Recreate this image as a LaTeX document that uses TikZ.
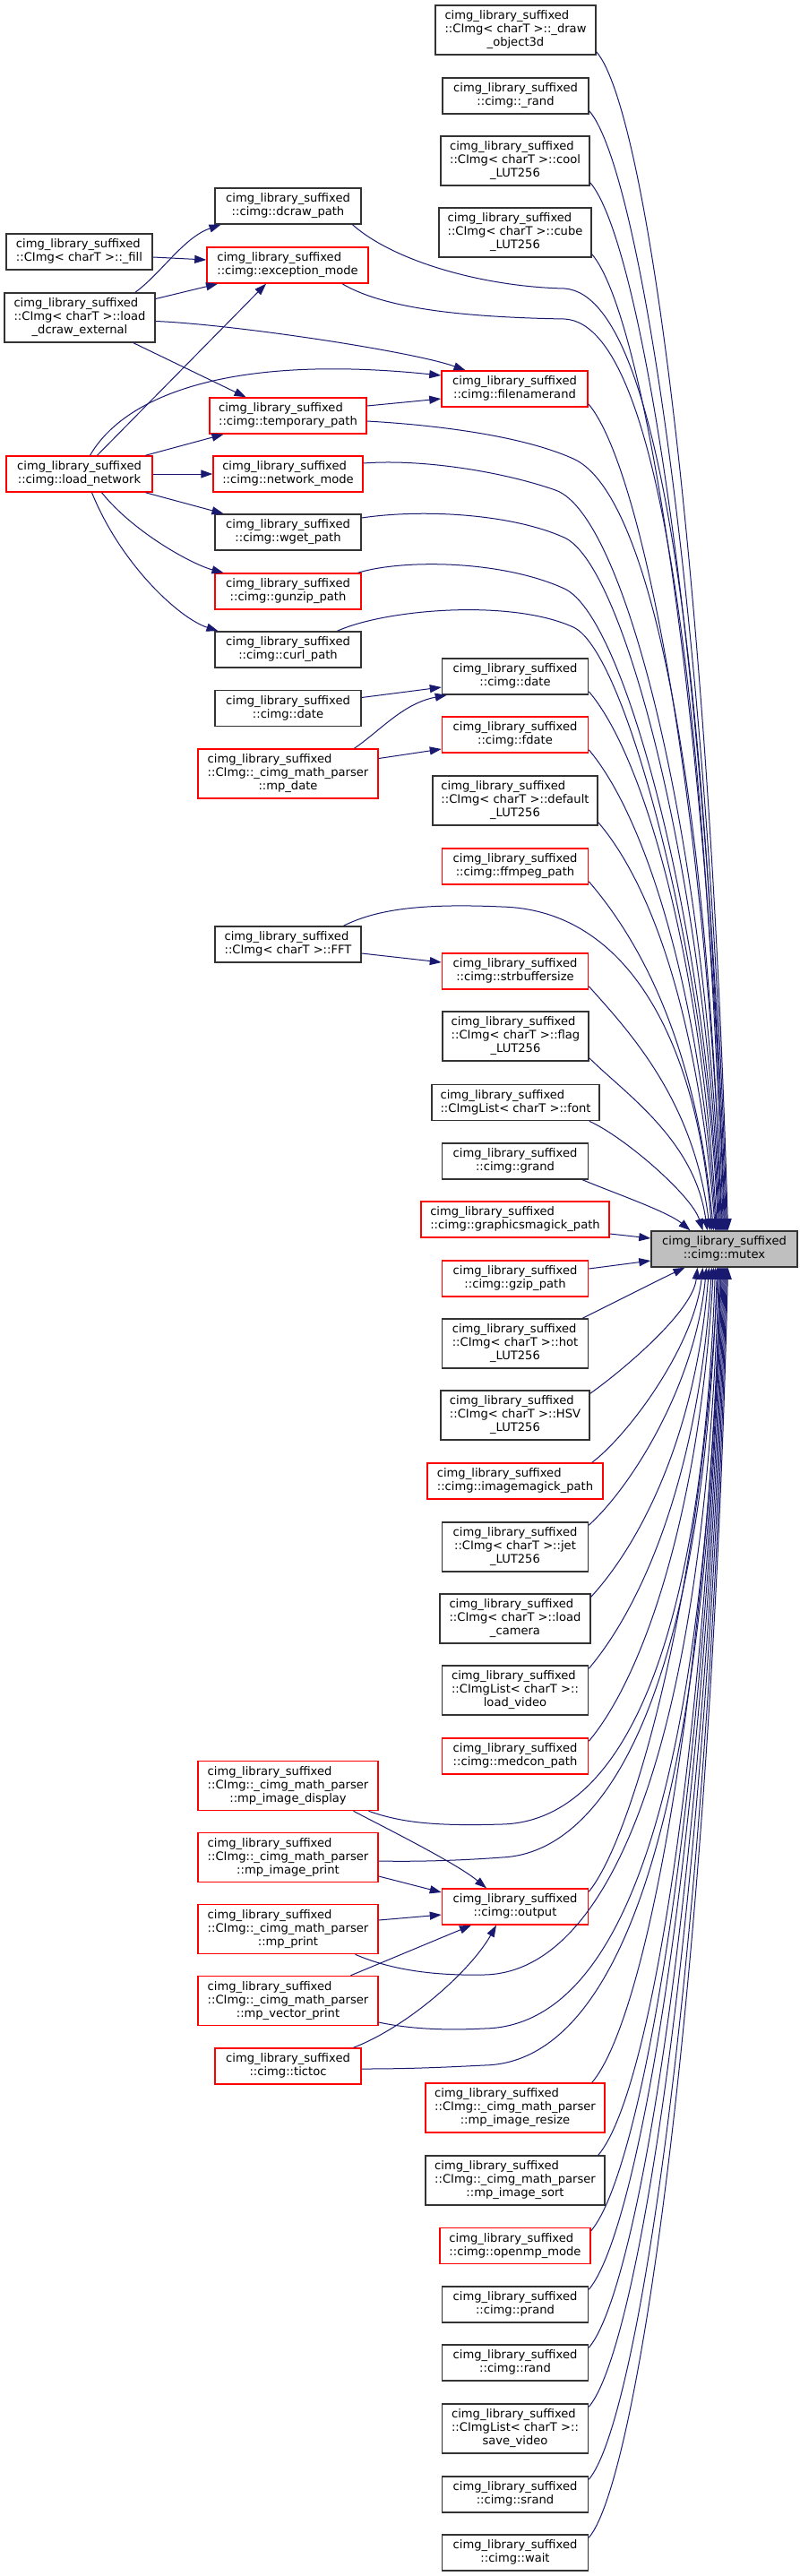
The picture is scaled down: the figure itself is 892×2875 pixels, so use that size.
\documentclass[tikz,border=0pt]{standalone}
\usepackage{fontspec}
\setmainfont{DejaVu Sans}
\usetikzlibrary{arrows.meta}
\definecolor{edgeblue}{HTML}{191970}
\definecolor{nodered}{HTML}{FF0000}
\definecolor{nodegray}{HTML}{333333}
\definecolor{rootfill}{HTML}{BFBFBF}
\newcommand\clab[1]{\begin{tabular}{@{}c@{}}\multicolumn{1}{@{}l@{}}{cimg\_library\_suffixed}\\#1\end{tabular}}
\begin{document}
\begin{tikzpicture}[x=1pt,y=-1pt,
  nd/.style={draw=nodegray, line width=1.5pt, fill=white, inner sep=0pt, font=\fontsize{13.1}{15}\selectfont},
  rd/.style={nd, draw=nodered},
  hh/.style={minimum width=#1, minimum height=40pt}, hh/.default=163pt,
  hhh/.style={minimum width=#1, minimum height=55pt}, hhh/.default=163pt,
  ed/.style={draw=edgeblue, line width=1pt, -{Triangle[length=13pt,width=9pt]}}]
\useasboundingbox (0,0) rectangle (892,2875);
\fill[white] (0,0) rectangle (892,2875);

\node[nd,hhh=179pt] (drawobj) at (575.5,33.5) {\clab{::CImg< charT >::\_draw\\\_object3d}};
\node[nd,hh] (urand) at (575.5,107) {\clab{::cimg::\_rand}};
\node[nd,hhh=166pt] (cool) at (575,179.5) {\clab{::CImg< charT >::cool\\\_LUT256}};
\node[nd,hhh=170pt] (cube) at (575,259.5) {\clab{::CImg< charT >::cube\\\_LUT256}};
\node[nd,hh] (dcraw) at (321.5,230) {\clab{::cimg::dcraw\_path}};
\node[nd,hh] (fillf) at (88.5,281) {\clab{::CImg< charT >::\_fill}};
\node[rd,hh=180pt] (exc) at (321,296) {\clab{::cimg::exception\_mode}};
\node[nd,hhh=168pt] (lde) at (89,354.5) {\clab{::CImg< charT >::load\\\_dcraw\_external}};
\node[rd,hh] (fnr) at (574.5,434) {\clab{::cimg::filenamerand}};
\node[rd,hh=175pt] (tmp) at (321.5,464) {\clab{::cimg::temporary\_path}};
\node[rd,hh] (lnet) at (88.5,529) {\clab{::cimg::load\_network}};
\node[rd,hh=167pt] (netm) at (321.5,529) {\clab{::cimg::network\_mode}};
\node[nd,hh] (wget) at (321.5,594) {\clab{::cimg::wget\_path}};
\node[rd,hh] (gunzip) at (321.5,660) {\clab{::cimg::gunzip\_path}};
\node[nd,hh] (curl) at (321.5,725) {\clab{::cimg::curl\_path}};
\node[nd,hh] (dateR) at (575,755) {\clab{::cimg::date}};
\node[nd,hh] (dateL) at (321.5,790.5) {\clab{::cimg::date}};
\node[rd,hh] (fdate) at (575,820) {\clab{::cimg::fdate}};
\node[rd,hhh=201pt] (mpdate) at (321.5,863.5) {\clab{::CImg::\_cimg\_math\_parser\\::mp\_date}};
\node[nd,hhh=184pt] (deflut) at (575,893.5) {\clab{::CImg< charT >::default\\\_LUT256}};
\node[rd,hh] (ffmpeg) at (575,967) {\clab{::cimg::ffmpeg\_path}};
\node[nd,hh] (fft) at (321.5,1054) {\clab{::CImg< charT >::FFT}};
\node[rd,hh] (strbuf) at (575,1084) {\clab{::cimg::strbuffersize}};
\node[nd,hhh] (flag) at (575.5,1156.5) {\clab{::CImg< charT >::flag\\\_LUT256}};
\node[nd,hh=187pt] (fontn) at (575.5,1230.5) {\clab{::CImgList< charT >::font}};
\node[nd,hh] (grand) at (575,1296) {\clab{::cimg::grand}};
\node[rd,hh=210pt] (gm) at (575,1361) {\clab{::cimg::graphicsmagick\_path}};
\node[nd,hh,fill=rootfill] (mutex) at (808.5,1394) {\clab{::cimg::mutex}};
\node[rd,hh] (gzip) at (575,1427) {\clab{::cimg::gzip\_path}};
\node[nd,hhh] (hot) at (575,1499.5) {\clab{::CImg< charT >::hot\\\_LUT256}};
\node[nd,hhh=166pt] (hsv) at (575,1579.5) {\clab{::CImg< charT >::HSV\\\_LUT256}};
\node[rd,hh=196pt] (im) at (575,1653) {\clab{::cimg::imagemagick\_path}};
\node[nd,hhh] (jet) at (575,1726.5) {\clab{::CImg< charT >::jet\\\_LUT256}};
\node[nd,hhh=168pt] (cam) at (575,1806.5) {\clab{::CImg< charT >::load\\\_camera}};
\node[nd,hhh] (lvid) at (575,1886.5) {\clab{::CImgList< charT >::\\load\_video}};
\node[rd,hh] (medcon) at (575,1960) {\clab{::cimg::medcon\_path}};
\node[rd,hhh=201pt] (mpid) at (321.5,1993) {\clab{::CImg::\_cimg\_math\_parser\\::mp\_image\_display}};
\node[rd,hhh=201pt] (mpip) at (321.5,2073) {\clab{::CImg::\_cimg\_math\_parser\\::mp\_image\_print}};
\node[rd,hh] (output) at (575,2128) {\clab{::cimg::output}};
\node[rd,hhh=201pt] (mpp) at (321.5,2153) {\clab{::CImg::\_cimg\_math\_parser\\::mp\_print}};
\node[rd,hhh=201pt] (mpvp) at (321.5,2233) {\clab{::CImg::\_cimg\_math\_parser\\::mp\_vector\_print}};
\node[rd,hh] (tictoc) at (321.5,2306) {\clab{::cimg::tictoc}};
\node[rd,hhh=200pt] (mpir) at (575,2352.5) {\clab{::CImg::\_cimg\_math\_parser\\::mp\_image\_resize}};
\node[nd,hhh=200pt] (mpis) at (575,2433.5) {\clab{::CImg::\_cimg\_math\_parser\\::mp\_image\_sort}};
\node[rd,hh=168pt] (omp) at (575,2506.5) {\clab{::cimg::openmp\_mode}};
\node[nd,hh] (prand) at (575,2572) {\clab{::cimg::prand}};
\node[nd,hh] (rnd) at (575,2637) {\clab{::cimg::rand}};
\node[nd,hhh] (svid) at (575,2710.5) {\clab{::CImgList< charT >::\\save\_video}};
\node[nd,hh] (srand) at (575,2784) {\clab{::cimg::srand}};
\node[nd,hh] (wait) at (575,2849) {\clab{::cimg::wait}};

% left part
\draw[ed] ([xshift=62]lde.north) .. controls (180,305) and (205,265) .. ([xshift=-75]dcraw.south);
\draw[ed] ([yshift=-6]fillf.east) -- ([yshift=6]exc.west);
\draw[ed] ([yshift=21]lde.east) -- ([xshift=-78]exc.south);
\draw[ed] ([xshift=20]lnet.north) -- ([xshift=-24]exc.south);
\draw[ed] ([yshift=-4]lde.east) .. controls (260,362) and (460,392) .. ([xshift=-55]fnr.north);
\draw[ed] ([xshift=12]lnet.north) .. controls (140,440) and (260,395) .. ([yshift=15]fnr.west);
\draw[ed] ([xshift=60]lde.south) -- ([xshift=-47]tmp.north);
\draw[ed] ([yshift=11]tmp.east) -- ([yshift=-11]fnr.west);
\draw[ed] ([xshift=74]lnet.north) -- ([xshift=-72]tmp.south);
\draw[ed] (lnet.east) -- (netm.west);
\draw[ed] ([xshift=74]lnet.south) -- ([xshift=-72]wget.north);
\draw[ed] ([xshift=25]lnet.south) .. controls (150,595) and (215,630) .. ([xshift=-72]gunzip.north);
\draw[ed] ([xshift=14]lnet.south) .. controls (135,630) and (200,690) .. ([xshift=-78]curl.north);
\draw[ed] ([yshift=12]dateL.east) -- ([yshift=-12]dateR.west);
\draw[ed] ([xshift=74]mpdate.north) .. controls (425,815) and (450,785) .. ([xshift=6]dateR.south west);
\draw[ed] ([yshift=17]mpdate.east) -- ([yshift=-16]fdate.west);
\draw[ed] ([yshift=-10]fft.east) -- ([yshift=10]strbuf.west);

% into output
\draw[ed] ([xshift=73]mpid.south) .. controls (440,2045) and (510,2080) .. ([xshift=-32]output.north);
\draw[ed] ([yshift=-21]mpip.east) -- ([yshift=16]output.west);
\draw[ed] ([yshift=10]mpp.east) -- ([yshift=-9]output.west);
\draw[ed] ([xshift=70]mpvp.north) -- ([xshift=-49]output.south);
\draw[ed] ([xshift=73]tictoc.north) .. controls (455,2262) and (525,2200) .. ([xshift=-21]output.south);

% middle column into mutex (top)
\draw[ed] ([xshift=72]dcraw.south) .. controls (440,292) and (540,320) .. (630,322) .. controls (750,330) and (792,850) .. (mutex.north);
\draw[ed] ([xshift=61]exc.south) .. controls (430,345) and (520,354) .. (630,356) .. controls (750,362) and (790,880) .. ([xshift=-1]mutex.north);
\draw[ed] ([yshift=-6]tmp.east) .. controls (480,474) and (580,485) .. (640,512) .. controls (730,552) and (790,900) .. ([xshift=-3]mutex.north);
\draw[ed] ([yshift=12]netm.east) .. controls (470,512) and (560,526) .. (620,547) .. controls (700,575) and (790,950) .. ([xshift=-4]mutex.north);
\draw[ed] ([yshift=16]wget.east) .. controls (470,568) and (570,573) .. (630,600) .. controls (700,632) and (790,1000) .. ([xshift=-5]mutex.north);
\draw[ed] ([xshift=78]gunzip.north) .. controls (450,624) and (560,625) .. (630,657) .. controls (700,689) and (790,1050) .. ([xshift=-6]mutex.north);
\draw[ed] ([xshift=55]curl.north) .. controls (430,680) and (570,668) .. (640,700) .. controls (700,727) and (790,1080) .. ([xshift=-7]mutex.north);
\draw[ed] ([xshift=62]fft.north) .. controls (420,1015) and (470,1008) .. (560,1012) .. controls (710,1016) and (780,1180) .. ([xshift=-14]mutex.north);

% right column into mutex (top)
\draw[ed] ([yshift=4]drawobj.south east) .. controls (725,127) and (792.5,676) .. ([xshift=4]mutex.north);
\draw[ed] ([yshift=4]urand.south east) .. controls (717,193) and (791.5,711) .. ([xshift=3]mutex.north);
\draw[ed] ([yshift=4]cool.south east) .. controls (718,273) and (790.5,754) .. ([xshift=2]mutex.north);
\draw[ed] ([yshift=4]cube.south east) .. controls (720,353) and (789.5,796) .. ([xshift=1]mutex.north);
\draw[ed] ([yshift=4]fnr.south east) .. controls (716,520) and (786.5,884) .. ([xshift=-2]mutex.north);
\draw[ed] ([yshift=4]dateR.south east) .. controls (716,840) and (780.5,1054) .. ([xshift=-8]mutex.north);
\draw[ed] ([yshift=4]fdate.south east) .. controls (716,906) and (779.5,1089) .. ([xshift=-9]mutex.north);
\draw[ed] ([yshift=4]deflut.south east) .. controls (727,987) and (778.5,1132) .. ([xshift=-10]mutex.north);
\draw[ed] ([yshift=4]ffmpeg.south east) .. controls (716,1052) and (776.5,1166) .. ([xshift=-12]mutex.north);
\draw[ed] ([yshift=4]strbuf.south east) .. controls (706,1155) and (774.5,1230) .. ([xshift=-16]mutex.north);
\draw[ed] ([yshift=4]flag.south east) .. controls (697,1220) and (775.5,1272) .. ([xshift=-19]mutex.north);
\draw[ed] ([xshift=-12]fontn.south east) .. controls (697,1269) and (772,1334) .. ([xshift=-24]mutex.north);
\draw[ed] ([xshift=-7]grand.south east) .. controls (684,1331) and (745,1352) .. ([xshift=-38]mutex.north);

% side entries
\draw[ed] ([yshift=-16]gm.east) -- ([yshift=12]mutex.west);
\draw[ed] ([yshift=11]gzip.east) -- ([yshift=-13]mutex.west);

% right column into mutex (bottom)
\draw[ed] ([xshift=-7]hot.north east) .. controls (679,1457) and (734,1429) .. ([xshift=-44]mutex.south);
\draw[ed] ([yshift=-4]hsv.north east) .. controls (693,1531) and (773.5,1464) .. ([xshift=-30]mutex.south);
\draw[ed] ([xshift=-13]im.north east) .. controls (700,1603) and (774.5,1504) .. ([xshift=-24]mutex.south);
\draw[ed] ([yshift=-4]jet.north east) .. controls (706,1658) and (776.5,1544) .. ([xshift=-20]mutex.south);
\draw[ed] ([yshift=-4]cam.north east) .. controls (714,1723) and (776.5,1604) .. ([xshift=-17]mutex.south);
\draw[ed] ([yshift=-4]lvid.north east) .. controls (716,1793) and (779.5,1649) .. ([xshift=-14]mutex.south);
\draw[ed] ([yshift=-4]medcon.north east) .. controls (716,1874) and (780.5,1694) .. ([xshift=-12]mutex.south);
\draw[ed] ([yshift=-4]output.north east) .. controls (706,2052) and (783.5,1780) .. ([xshift=-7]mutex.south);
\draw[ed] ([xshift=-15]mpir.north east) .. controls (720,2255) and (787.5,1897) .. ([xshift=-3]mutex.south);
\draw[ed] ([xshift=-8]mpis.north east) .. controls (727,2336) and (788.5,1940) .. ([xshift=-2]mutex.south);
\draw[ed] ([yshift=-4]omp.north east) .. controls (719,2420) and (789.5,1984) .. ([xshift=-1]mutex.south);
\draw[ed] ([yshift=-4]prand.north east) .. controls (716,2486) and (790.5,2019) .. (mutex.south);
\draw[ed] ([yshift=-4]rnd.north east) .. controls (716,2551) and (791.5,2054) .. ([xshift=1]mutex.south);
\draw[ed] ([yshift=-4]svid.north east) .. controls (716,2617) and (792.5,2089) .. ([xshift=2]mutex.south);
\draw[ed] ([yshift=-4]srand.north east) .. controls (716,2698) and (793.5,2132) .. ([xshift=3]mutex.south);
\draw[ed] ([yshift=-4]wait.north east) .. controls (716,2763) and (794.5,2166) .. ([xshift=4]mutex.south);

% middle column into mutex (bottom)
\draw[ed] ([xshift=90]mpid.south) .. controls (450,2035) and (490,2038) .. (560,2036) .. controls (690,2033) and (783,1850) .. ([xshift=-10]mutex.south);
\draw[ed] ([yshift=-4]mpip.east) .. controls (470,2078) and (520,2076) .. (560,2073) .. controls (680,2068) and (785,1880) .. ([xshift=-8]mutex.south);
\draw[ed] ([xshift=75]mpp.south) .. controls (440,2200) and (490,2205) .. (540,2204) .. controls (680,2202) and (786,1950) .. ([xshift=-6]mutex.south);
\draw[ed] ([yshift=-24]mpvp.east) .. controls (460,2265) and (500,2266) .. (540,2264) .. controls (680,2262) and (787,2050) .. ([xshift=-5]mutex.south);
\draw[ed] ([yshift=-3]tictoc.east) .. controls (460,2309) and (500,2307) .. (540,2305) .. controls (670,2303) and (788,2100) .. ([xshift=-4]mutex.south);
\end{tikzpicture}
\end{document}
